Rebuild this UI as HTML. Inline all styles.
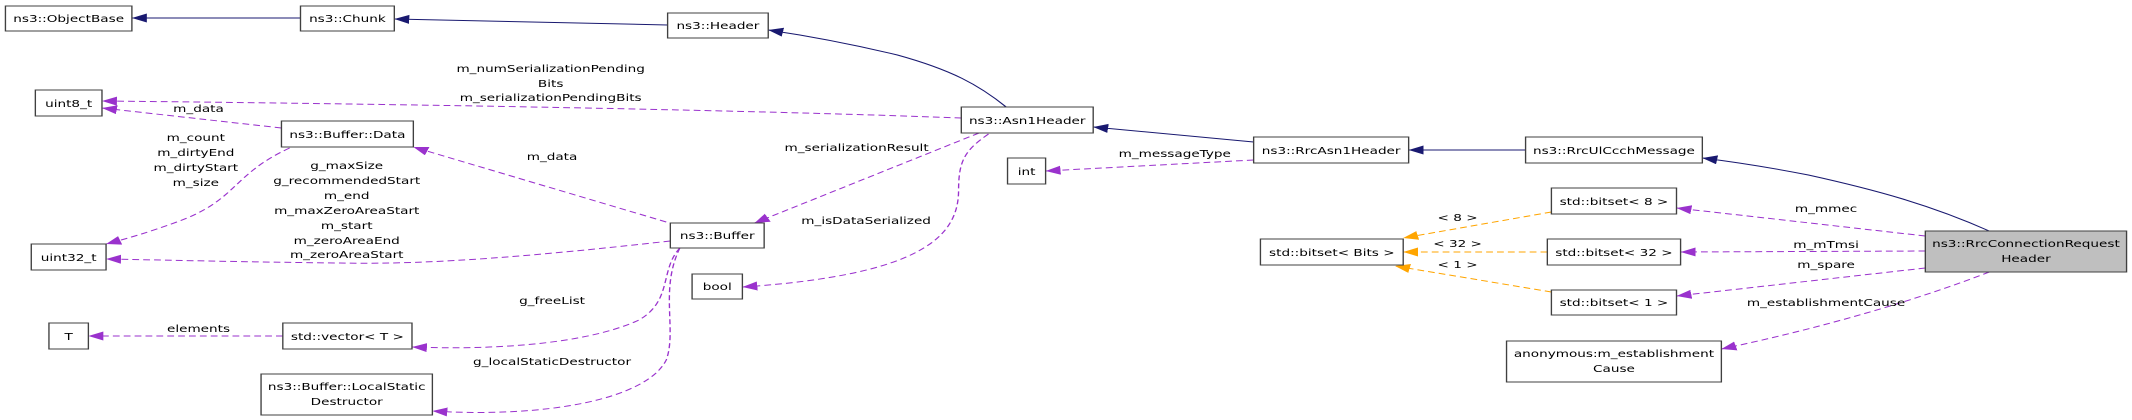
<!DOCTYPE html>
<html><head><meta charset="utf-8"><style>
html,body{margin:0;padding:0;background:#fff;}
svg{display:block;}
text{font-family:"DejaVu Sans","Liberation Sans",sans-serif;font-size:10px;fill:#000;}
.b{fill:#fff;stroke:#404040;stroke-width:1;}
.n{fill:none;stroke:#191970;stroke-width:1;}
.p{fill:none;stroke:#9a32cd;stroke-width:1;stroke-dasharray:5,3;}
.o{fill:none;stroke:#ffa500;stroke-width:1;stroke-dasharray:5,3;}
</style></head><body>
<svg width="2132" height="420" viewBox="0 0 1568 420" preserveAspectRatio="none" xmlns="http://www.w3.org/2000/svg">
<defs>
<marker id="an" markerUnits="userSpaceOnUse" markerWidth="12" markerHeight="10" refX="11" refY="4.5" orient="auto"><path d="M0,0 L11,4.5 L0,9 z" fill="#191970"/></marker>
<marker id="ap" markerUnits="userSpaceOnUse" markerWidth="12" markerHeight="10" refX="11" refY="4.5" orient="auto"><path d="M0,0 L11,4.5 L0,9 z" fill="#9a32cd"/></marker>
<marker id="ao" markerUnits="userSpaceOnUse" markerWidth="12" markerHeight="10" refX="11" refY="4.5" orient="auto"><path d="M0,0 L11,4.5 L0,9 z" fill="#ffa500"/></marker>
</defs>
<path class="n" d="M221,18 L97,18" marker-end="url(#an)"/>
<path class="n" d="M491,25 L290,19" marker-end="url(#an)"/>
<path class="n" d="M740,107 C720,85 700,70 660,55 C620,42 590,35 565,30" marker-end="url(#an)"/>
<path class="n" d="M922,142 L804,127" marker-end="url(#an)"/>
<path class="n" d="M1122,150 L1036,150" marker-end="url(#an)"/>
<path class="n" d="M1463,231 C1420,205 1380,190 1330,175 C1300,167 1270,161 1252,158" marker-end="url(#an)"/>
<path class="p" d="M707,118 C550,110 300,104 75,101" marker-end="url(#ap)"/>
<path class="p" d="M207,128 L75,108" marker-end="url(#ap)"/>
<path class="p" d="M213,148 C170,175 175,200 130,222 C110,232 95,238 78,244" marker-end="url(#ap)"/>
<path class="p" d="M493,241 C400,255 320,265 250,263 C180,262 120,260 78,259" marker-end="url(#ap)"/>
<path class="p" d="M490,222 L304,147" marker-end="url(#ap)"/>
<path class="p" d="M720,133 L555,223" marker-end="url(#ap)"/>
<path class="p" d="M727,134 C710,150 705,160 705,190 C705,235 680,275 546,287" marker-end="url(#ap)"/>
<path class="p" d="M500,248 C485,270 495,300 470,320 C430,345 360,350 303,347" marker-end="url(#ap)"/>
<path class="p" d="M500,248 C485,290 498,330 490,360 C475,400 400,418 318,411" marker-end="url(#ap)"/>
<path class="p" d="M208,336 L65,336" marker-end="url(#ap)"/>
<path class="p" d="M922,160 L769,171" marker-end="url(#ap)"/>
<path class="p" d="M1416,236 L1233,208" marker-end="url(#ap)"/>
<path class="p" d="M1416,251 L1236,252" marker-end="url(#ap)"/>
<path class="p" d="M1416,268 L1233,296" marker-end="url(#ap)"/>
<path class="p" d="M1463,272 C1410,300 1340,328 1266,349" marker-end="url(#ap)"/>
<path class="o" d="M1141,212 L1032,238" marker-end="url(#ao)"/>
<path class="o" d="M1138,252 L1032,252" marker-end="url(#ao)"/>
<path class="o" d="M1141,292 L1026,266" marker-end="url(#ao)"/>
<g>
<rect class="b" x="4" y="6" width="93" height="25"/><text x="50.5" y="22" text-anchor="middle">ns3::ObjectBase</text>
<rect class="b" x="221" y="6" width="69" height="25"/><text x="255.5" y="22" text-anchor="middle">ns3::Chunk</text>
<rect class="b" x="491" y="13" width="74" height="25"/><text x="528" y="29" text-anchor="middle">ns3::Header</text>
<rect class="b" x="26" y="90" width="49" height="26"/><text x="50.5" y="107" text-anchor="middle">uint8_t</text>
<rect class="b" x="207" y="121" width="97" height="26"/><text x="255.5" y="138" text-anchor="middle">ns3::Buffer::Data</text>
<rect class="b" x="23" y="244" width="55" height="26"/><text x="50.5" y="261" text-anchor="middle">uint32_t</text>
<rect class="b" x="493" y="223" width="69" height="25"/><text x="527.5" y="239" text-anchor="middle">ns3::Buffer</text>
<rect class="b" x="509" y="274" width="37" height="25"/><text x="527.5" y="290" text-anchor="middle">bool</text>
<rect class="b" x="36" y="323" width="29" height="26"/><text x="50.5" y="340" text-anchor="middle">T</text>
<rect class="b" x="208" y="323" width="95" height="26"/><text x="255.5" y="340" text-anchor="middle">std::vector&lt; T &gt;</text>
<rect class="b" x="192" y="374" width="126" height="41"/><text x="255" y="390" text-anchor="middle">ns3::Buffer::LocalStatic</text><text x="255" y="405" text-anchor="middle">Destructor</text>
<rect class="b" x="707" y="107" width="97" height="26"/><text x="755.5" y="124" text-anchor="middle">ns3::Asn1Header</text>
<rect class="b" x="922" y="137" width="114" height="26"/><text x="979" y="154" text-anchor="middle">ns3::RrcAsn1Header</text>
<rect class="b" x="741" y="158" width="28" height="26"/><text x="755" y="175" text-anchor="middle">int</text>
<rect class="b" x="927" y="239" width="105" height="26"/><text x="979.5" y="256" text-anchor="middle">std::bitset&lt; Bits &gt;</text>
<rect class="b" x="1122" y="137" width="130" height="26"/><text x="1187" y="154" text-anchor="middle">ns3::RrcUlCcchMessage</text>
<rect class="b" x="1141" y="188" width="92" height="26"/><text x="1187" y="205" text-anchor="middle">std::bitset&lt; 8 &gt;</text>
<rect class="b" x="1138" y="239" width="98" height="26"/><text x="1187" y="256" text-anchor="middle">std::bitset&lt; 32 &gt;</text>
<rect class="b" x="1141" y="290" width="92" height="25"/><text x="1187" y="306" text-anchor="middle">std::bitset&lt; 1 &gt;</text>
<rect class="b" x="1108" y="341" width="158" height="41"/><text x="1187" y="357" text-anchor="middle">anonymous:m_establishment</text><text x="1187" y="372" text-anchor="middle">Cause</text>
<rect x="1416" y="231" width="148" height="41" fill="#bfbfbf" stroke="#404040"/><text x="1490" y="247" text-anchor="middle">ns3::RrcConnectionRequest</text><text x="1490" y="262" text-anchor="middle">Header</text>
</g>
<g text-anchor="middle">
<text x="405" y="72">m_numSerializationPending</text><text x="405" y="87">Bits</text><text x="405" y="101">m_serializationPendingBits</text>
<text x="146" y="112">m_data</text>
<text x="144" y="141">m_count</text><text x="144" y="156">m_dirtyEnd</text><text x="144" y="171">m_dirtyStart</text><text x="144" y="186">m_size</text>
<text x="255" y="169">g_maxSize</text><text x="255" y="184">g_recommendedStart</text><text x="255" y="199">m_end</text><text x="255" y="214">m_maxZeroAreaStart</text><text x="255" y="229">m_start</text><text x="255" y="244">m_zeroAreaEnd</text><text x="255" y="258">m_zeroAreaStart</text>
<text x="406" y="160">m_data</text>
<text x="406" y="304">g_freeList</text>
<text x="146" y="332">elements</text>
<text x="406" y="365">g_localStaticDestructor</text>
<text x="630" y="151">m_serializationResult</text>
<text x="637" y="224">m_isDataSerialized</text>
<text x="864" y="157">m_messageType</text>
<text x="1072" y="221">&lt; 8 &gt;</text>
<text x="1072" y="247">&lt; 32 &gt;</text>
<text x="1072" y="268">&lt; 1 &gt;</text>
<text x="1343" y="212">m_mmec</text>
<text x="1343" y="248">m_mTmsi</text>
<text x="1343" y="268">m_spare</text>
<text x="1343" y="306">m_establishmentCause</text>
</g>
</svg>
</body></html>
